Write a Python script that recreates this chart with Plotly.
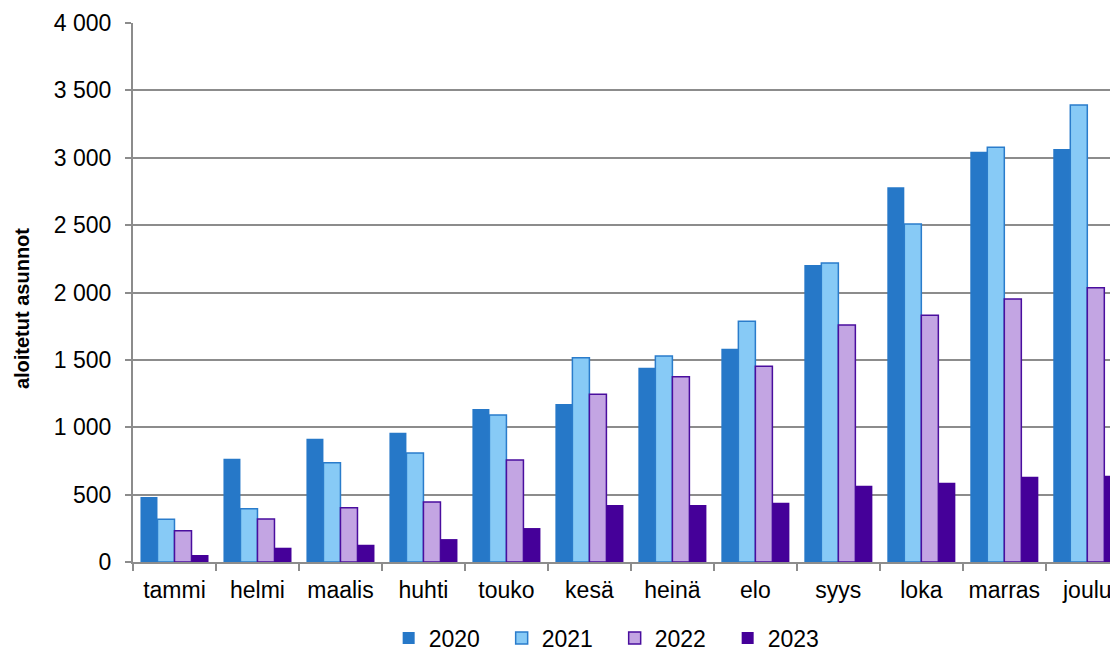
import plotly.graph_objects as go

months = ["tammi", "helmi", "maalis", "huhti", "touko", "kesä", "heinä", "elo", "syys", "loka", "marras", "joulu"]
v2020 = [482, 767, 915, 960, 1135, 1172, 1442, 1583, 2204, 2781, 3045, 3065]
v2021 = [318, 396, 737, 809, 1090, 1516, 1529, 1786, 2219, 2508, 3077, 3391]
v2022 = [232, 319, 403, 445, 757, 1244, 1375, 1452, 1759, 1831, 1952, 2036]
v2023 = [52, 106, 128, 170, 252, 423, 423, 440, 566, 589, 633, 640]
years = ["2020", "2021", "2022", "2023"]
y_ticks = [0, 500, 1000, 1500, 2000, 2500, 3000, 3500, 4000]
y_title = "aloitetut asunnot"

series = [v2020, v2021, v2022, v2023]
fills = ["#2678C8", "#87CAF6", "#C3A5E3", "#450099"]
lines = ["#2678C8", "#2A7CCB", "#4A0E9E", "#450099"]
widths = [0, 1.5, 1.5, 0]

fig = go.Figure()
for name, vals, fc, lc, lw in zip(years, series, fills, lines, widths):
    fig.add_trace(go.Bar(x=months, y=vals, name=name,
                         marker=dict(color=fc, line=dict(color=lc, width=lw))))

font = "Liberation Sans, Arial, sans-serif"
fig.update_layout(
    width=1110, height=643,
    margin=dict(l=125, r=0, t=15, b=89, autoexpand=False),
    paper_bgcolor="white", plot_bgcolor="white",
    barmode="group", bargap=0.18, bargroupgap=0,
    separators=", ",
    font=dict(family=font, size=23, color="black"),
    showlegend=True,
    legend=dict(orientation="h", x=0.489, xanchor="center", y=-0.141, yanchor="middle",
                font=dict(size=23), entrywidth=68, entrywidthmode="pixels",
                itemwidth=30, tracegroupgap=0),
    xaxis=dict(range=[-0.5, 11.37], showline=True, linecolor="#8C8C8C", linewidth=2,
               ticks="outside", tickson="boundaries", ticklen=7, tickcolor="#8C8C8C",
               tickwidth=2, showgrid=False, tickfont=dict(size=23), ticklabelstandoff=6),
    yaxis=dict(range=[0, 4000], tickvals=y_ticks, tickformat=",", showline=True,
               linecolor="#8C8C8C", linewidth=2, ticks="outside", ticklen=6,
               tickcolor="#8C8C8C", tickwidth=2, showgrid=True, gridcolor="#8C8C8C",
               gridwidth=2, zeroline=False, tickfont=dict(size=23), ticklabelstandoff=9),
    annotations=[dict(text="<b>" + y_title + "</b>", xref="paper", yref="paper",
                      x=-0.1127, y=0.471, xanchor="center", yanchor="middle",
                      textangle=-90, showarrow=False, font=dict(size=20))],
)
fig.write_html("out.html")
